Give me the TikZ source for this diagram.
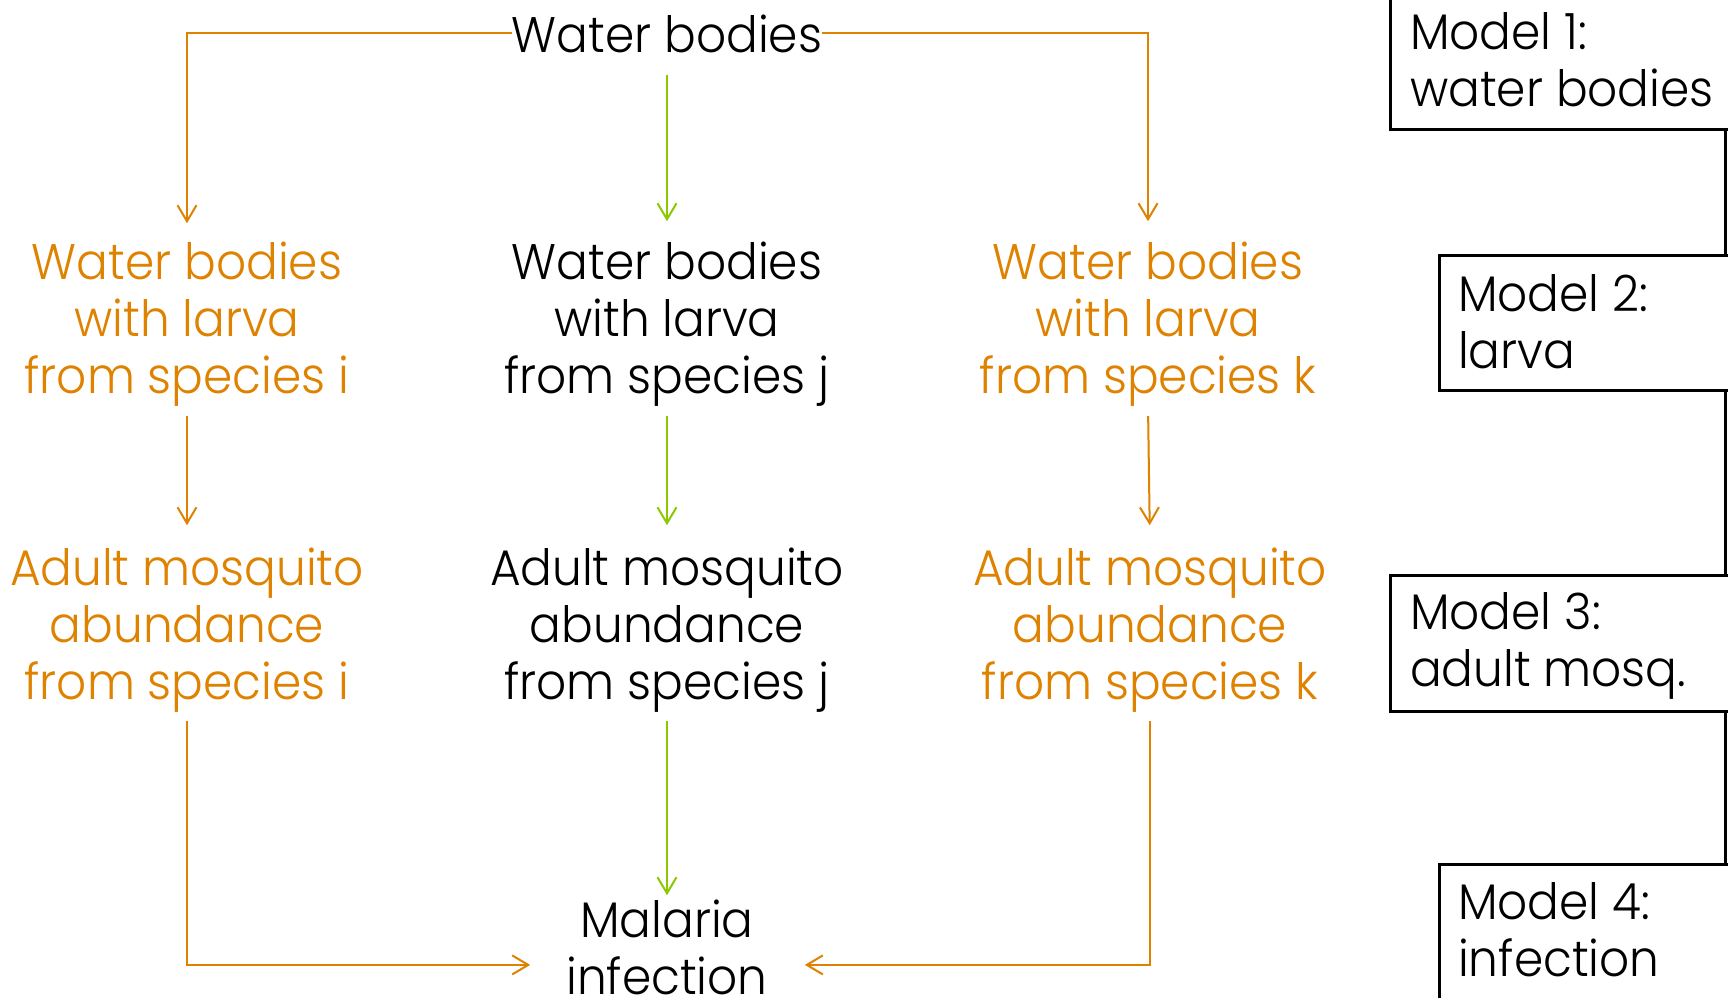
\documentclass[tikz,border=0pt]{standalone}
\usepackage{fontspec}
\setmainfont{Poppins}[UprightFont=* Light, FakeStretch=0.94]
\usetikzlibrary{arrows.meta}
\definecolor{orng}{HTML}{DE8200}
\definecolor{grn}{HTML}{8CC800}
\begin{document}
\begin{tikzpicture}[x=1pt,y=-1pt,
  every node/.style={font=\fontsize{50}{57}\selectfont, inner sep=0pt},
  lbl/.style={align=center, text=black},
  olbl/.style={align=center, text=orng},
  mlbl/.style={align=left, text=black, anchor=base west},
  mbox/.style={draw=black, line width=3pt, minimum width=420pt, anchor=north west},
  mline/.style={draw=black, line width=3pt},
  arr/.style={line width=2pt, -{Straight Barb[length=16pt,width=19pt]}},
  oarr/.style={arr, draw=orng},
  garr/.style={arr, draw=grn}]
\clip (0,0) rectangle (1728,997);
\fill[white] (0,0) rectangle (1728,997);

% main labels (base anchor = baseline of last line)
\node[lbl, anchor=base] (wb) at (667,52) {Water bodies};
\node[olbl, anchor=base] (l1) at (187,393) {Water bodies\\with larva\\from species i};
\node[lbl, anchor=base] (l2) at (667,393) {Water bodies\\with larva\\from species j};
\node[olbl, anchor=base] (l3) at (1148,393) {Water bodies\\with larva\\from species k};
\node[olbl, anchor=base] (a1) at (187,699) {Adult mosquito\\abundance\\from species i};
\node[lbl, anchor=base] (a2) at (667,699) {Adult mosquito\\abundance\\from species j};
\node[olbl, anchor=base] (a3) at (1150,699) {Adult mosquito\\abundance\\from species k};
\node[lbl, anchor=base] (mal) at (667,994) {Malaria\\infection};

% connectors
\draw[oarr, shorten >=18pt] (wb.west) -| (l1.north);
\draw[oarr, shorten >=20pt] (wb.east) -| (l3.north);
\draw[garr, shorten <=22pt, shorten >=20pt] (wb.south) -- (l2.north);
\draw[oarr, shorten <=10pt, shorten >=22pt] (l1.south) -- (a1.north);
\draw[garr, shorten <=10pt, shorten >=22pt] (l2.south) -- (a2.north);
\draw[oarr, shorten <=10pt, shorten >=22pt] (l3.south) -- (a3.north);
\draw[garr, shorten <=9pt, shorten >=4pt] (a2.south) -- (mal.north);
\draw[oarr, shorten <=9pt, shorten >=36pt] (a1.south) |- ([yshift=-18pt]mal.west);
\draw[oarr, shorten <=9pt, shorten >=37pt] (a3.south) |- ([yshift=-18pt]mal.east);

% model boxes
\node[mbox, minimum height=170pt] (m1) at (1389,-42) {};
\node[mbox, minimum height=135pt] (m2) at (1438,254) {};
\node[mbox, minimum height=136pt] (m3) at (1389,574) {};
\node[mbox, minimum height=200pt] (m4) at (1438,863) {};
\node[mlbl] (t1) at (1410,106) {Model 1:\\water bodies};
\node[mlbl] (t2) at (1458,368) {Model 2:\\larva};
\node[mlbl] (t3) at (1410,686) {Model 3:\\adult mosq.};
\node[mlbl] (t4) at (1458,976) {Model 4:\\infection};
\coordinate (xr) at (1725,0);
\draw[mline] (m1.south -| xr) -- (m2.north -| xr);
\draw[mline] (m2.south -| xr) -- (m3.north -| xr);
\draw[mline] (m3.south -| xr) -- (m4.north -| xr);
\end{tikzpicture}
\end{document}
